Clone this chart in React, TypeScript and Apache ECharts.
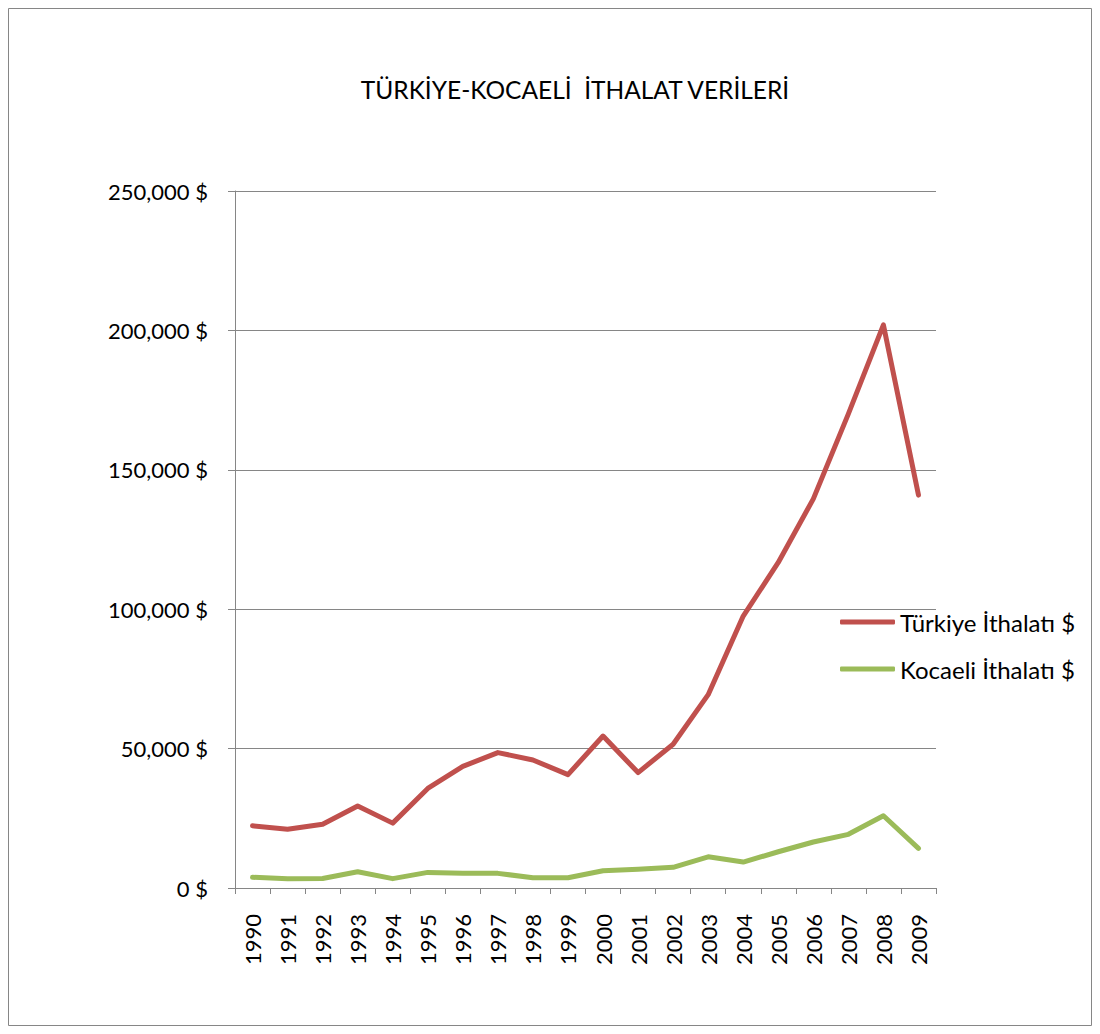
import React, { useEffect, useRef } from "react";
import * as echarts from "echarts";

const years = ["1990","1991","1992","1993","1994","1995","1996","1997","1998","1999","2000","2001","2002","2003","2004","2005","2006","2007","2008","2009"];
const turkiye = [22302, 21047, 22871, 29428, 23270, 35709, 43627, 48559, 45921, 40671, 54503, 41399, 51554, 69340, 97540, 116774, 139576, 170063, 201964, 140928];
const kocaeli = [3840, 3350, 3400, 5850, 3350, 5600, 5250, 5250, 3700, 3700, 6200, 6700, 7400, 11200, 9300, 13000, 16500, 19250, 25900, 14200];
const seriesNames = ["Türkiye İthalatı $", "Kocaeli İthalatı $"];
const colors = ["#C0504D", "#9BBB59"];
const titleText = "TÜRKİYE-KOCAELİ  İTHALAT VERİLERİ";

const FONT = "Lato";

export default function App() {
  const ref = useRef<HTMLDivElement>(null);
  useEffect(() => {
    if (!ref.current) return;
    const chart = echarts.init(ref.current, null, { renderer: "svg" });
    chart.setOption({
      animation: false,
      backgroundColor: "#ffffff",
      textStyle: { fontFamily: FONT },
      graphic: [
        {
          type: "rect",
          shape: { x: 8.5, y: 8.5, width: 1083, height: 1017 },
          style: { fill: "none", stroke: "#868686", lineWidth: 1 },
          silent: true,
        },
      ],
      title: {
        text: titleText,
        left: 570,
        textAlign: "center",
        top: 72,
        textStyle: { fontFamily: FONT, fontSize: 24.5, fontWeight: "normal", color: "#000" },
      },
      legend: {
        orient: "vertical",
        left: 835,
        top: 604,
        itemGap: 21,
        itemWidth: 55,
        itemHeight: 5,
        itemGap: 21,
        icon: "roundRect",
        textStyle: { fontFamily: FONT, fontSize: 24, lineHeight: 26, color: "#000" },
        data: seriesNames.map((n, i) => ({
          name: n,
          itemStyle: { color: colors[i] },
        })),
      },
      grid: { left: 235, right: 164, top: 191, bottom: 146, containLabel: false },
      xAxis: {
        type: "category",
        data: years,
        boundaryGap: true,
        axisLine: { show: true, lineStyle: { color: "#868686", width: 1 } },
        axisTick: { show: true, length: 6, lineStyle: { color: "#868686" } },
        axisLabel: { rotate: 90, fontFamily: FONT, fontSize: 22, color: "#000", margin: 26, interval: 0 },
      },
      yAxis: {
        type: "value",
        min: 0,
        max: 250000,
        interval: 50000,
        axisLine: { show: true, lineStyle: { color: "#868686", width: 1 } },
        axisTick: { show: true, length: 7, lineStyle: { color: "#868686" } },
        splitLine: { show: true, lineStyle: { color: "#868686", width: 1 } },
        axisLabel: {
          fontFamily: FONT,
          fontSize: 22,
          color: "#000",
          margin: 27,
          formatter: (v: number) => v.toLocaleString("en-US") + " $",
        },
      },
      series: [
        {
          name: seriesNames[0],
          type: "line",
          data: turkiye,
          symbol: "none",
          lineStyle: { color: colors[0], width: 5, cap: "round", join: "round" },
          itemStyle: { color: colors[0] },
        },
        {
          name: seriesNames[1],
          type: "line",
          data: kocaeli,
          symbol: "none",
          lineStyle: { color: colors[1], width: 5, cap: "round", join: "round" },
          itemStyle: { color: colors[1] },
        },
      ],
    });
    return () => chart.dispose();
  }, []);
  return <div ref={ref} style={{ position: "fixed", left: 0, top: 0, width: 1100, height: 1034 }} />;
}
